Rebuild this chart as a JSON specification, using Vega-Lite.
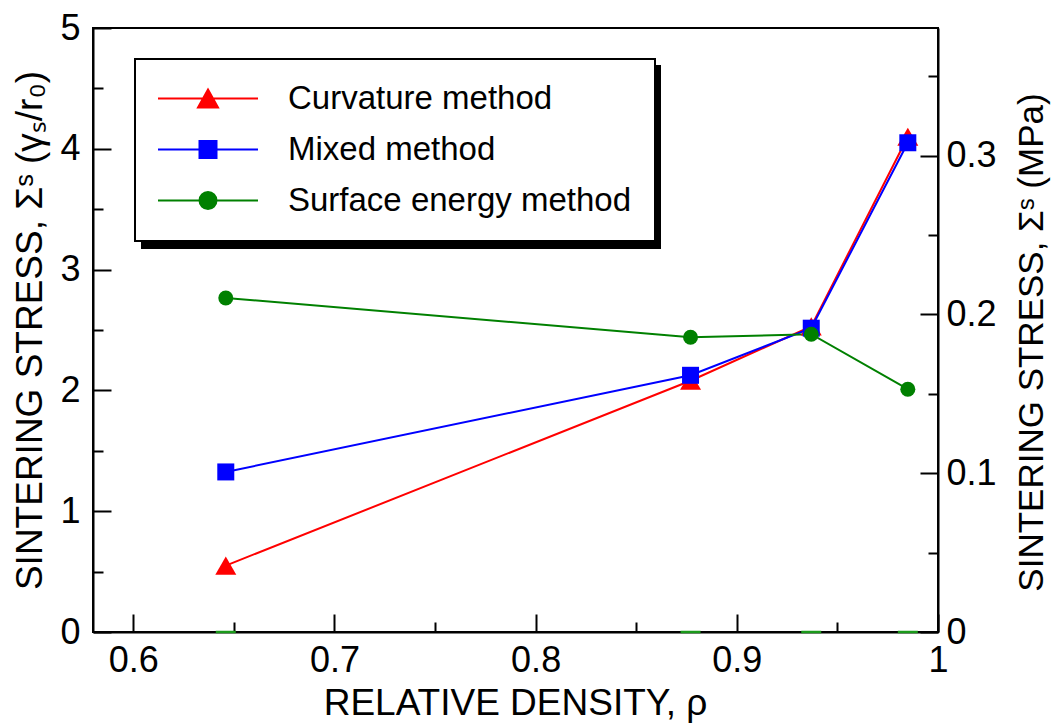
{
  "$schema": "https://vega.github.io/schema/vega-lite/v6.json",
  "width": 845,
  "height": 604,
  "autosize": "none",
  "padding": {"left": 93, "top": 28, "right": 114, "bottom": 94},
  "background": "white",
  "config": {
    "font": "Liberation Sans",
    "view": {"stroke": "black", "strokeWidth": 2},
    "legend": {"strokeWidth": 2},
    "axis": {
      "grid": false,
      "domainColor": "black",
      "domainWidth": 2,
      "tickColor": "black",
      "tickWidth": 2,
      "labelColor": "black",
      "titleColor": "black",
      "labelFont": "Liberation Sans",
      "titleFont": "Liberation Sans",
      "titleFontWeight": "normal",
      "labelFontSize": 36,
      "titleFontSize": 37,
      "labelFlush": false,
      "labelOverlap": false
    }
  },
  "data": {
    "values": [
      {"method": "Curvature method", "rho": 0.646, "stress": 0.55},
      {"method": "Curvature method", "rho": 0.877, "stress": 2.08},
      {"method": "Curvature method", "rho": 0.937, "stress": 2.53},
      {"method": "Curvature method", "rho": 0.985, "stress": 4.10},
      {"method": "Mixed method", "rho": 0.646, "stress": 1.325},
      {"method": "Mixed method", "rho": 0.877, "stress": 2.125},
      {"method": "Mixed method", "rho": 0.937, "stress": 2.515},
      {"method": "Mixed method", "rho": 0.985, "stress": 4.05},
      {"method": "Surface energy method", "rho": 0.646, "stress": 2.765},
      {"method": "Surface energy method", "rho": 0.877, "stress": 2.44},
      {"method": "Surface energy method", "rho": 0.937, "stress": 2.465},
      {"method": "Surface energy method", "rho": 0.985, "stress": 2.01}
    ]
  },
  "layer": [
    {
      "layer": [
        {
          "mark": {"type": "line", "strokeWidth": 2},
          "encoding": {
            "x": {
              "field": "rho", "type": "quantitative",
              "scale": {"domain": [0.58, 1], "nice": false, "zero": false},
              "axis": {
                "values": [0.6, 0.65, 0.7, 0.75, 0.8, 0.85, 0.9, 0.95, 1],
                "labelExpr": "abs(datum.value*10 - round(datum.value*10)) < 0.000001 ? format(datum.value, '~g') : ''",
                "tickSize": {"condition": {"test": "abs(datum.value*10 - round(datum.value*10)) < 0.000001", "value": -18}, "value": -10},
                "labelPadding": 29,
                "title": "RELATIVE DENSITY, ρ",
                "titleX": 422,
                "titleY": 71,
                "titleAlign": "center",
                "titleBaseline": "middle"
              }
            },
            "y": {
              "field": "stress", "type": "quantitative",
              "scale": {"domain": [0, 5], "nice": false},
              "axis": {
                "values": [0, 0.5, 1, 1.5, 2, 2.5, 3, 3.5, 4, 4.5, 5],
                "labelExpr": "datum.value % 1 === 0 ? format(datum.value, 'd') : ''",
                "tickSize": {"condition": {"test": "datum.value % 1 === 0", "value": -18}, "value": -10},
                "labelPadding": 31,
                "title": "SINTERING STRESS, Σˢ (γₛ/r₀)",
                "titleX": -63,
                "titleY": 302,
                "titleAngle": -90,
                "titleAlign": "center",
                "titleBaseline": "middle"
              }
            },
            "color": {
              "field": "method", "type": "nominal",
              "scale": {"range": ["#ff0000", "#0000ff", "#008000"]},
              "legend": null
            }
          }
        },
        {
          "transform": [{"filter": {"field": "method", "equal": "Curvature method"}}],
          "mark": {"type": "point", "filled": true, "shape": "triangle-up", "size": 441, "opacity": 1},
          "encoding": {
            "x": {"field": "rho", "type": "quantitative"},
            "y": {"field": "stress", "type": "quantitative"},
            "color": {"field": "method", "type": "nominal", "legend": null}
          }
        },
        {
          "transform": [{"filter": {"field": "method", "equal": "Mixed method"}}],
          "mark": {"type": "point", "filled": true, "shape": "square", "size": 289, "opacity": 1},
          "encoding": {
            "x": {"field": "rho", "type": "quantitative"},
            "y": {"field": "stress", "type": "quantitative"},
            "color": {"field": "method", "type": "nominal", "legend": null}
          }
        },
        {
          "transform": [{"filter": {"field": "method", "equal": "Surface energy method"}}],
          "mark": {"type": "point", "filled": true, "shape": "circle", "size": 225, "opacity": 1},
          "encoding": {
            "x": {"field": "rho", "type": "quantitative"},
            "y": {"field": "stress", "type": "quantitative"},
            "color": {"field": "method", "type": "nominal", "legend": null}
          }
        },
        {
          "transform": [{"filter": {"field": "method", "equal": "Surface energy method"}}],
          "mark": {"type": "tick", "orient": "horizontal", "size": 20, "thickness": 2.5, "color": "#1a9a1a", "opacity": 1},
          "encoding": {
            "x": {"field": "rho", "type": "quantitative"},
            "y": {"datum": 0, "type": "quantitative"}
          }
        },
        {
          "transform": [{"calculate": "datum.method", "as": "key"}],
          "mark": {"type": "point", "filled": true, "opacity": 0},
          "encoding": {
            "x": {"field": "rho", "type": "quantitative"},
            "y": {"field": "stress", "type": "quantitative"},
            "strokeDash": {
              "field": "key", "type": "nominal",
              "scale": {"range": [[1, 0], [1, 0], [1, 0]]},
              "legend": {
                "orient": "none", "legendX": 49, "legendY": 38, "zindex": 1,
                "title": null,
                "fillColor": "black", "strokeColor": "black",
                "padding": 23, "rowPadding": 17,
                "labelFont": "Liberation Sans", "labelFontSize": 33, "labelColor": "black", "labelOffset": 97, "labelLimit": 600,
                "labelExpr": "''",
                "symbolType": "M-1.65,-1.65L45.55,-1.65L45.55,1.65L-1.65,1.65Z", "symbolSize": 400, "symbolStrokeWidth": 0,
                "symbolFillColor": "black", "symbolStrokeColor": "black", "symbolOpacity": 1
              }
            }
          }
        },
        {
          "mark": {"type": "point", "filled": true, "opacity": 0},
          "encoding": {
            "x": {"field": "rho", "type": "quantitative"},
            "y": {"field": "stress", "type": "quantitative"},
            "fill": {
              "field": "method", "type": "nominal",
              "scale": {"domain": ["Curvature method", "Mixed method", "Surface energy method"], "range": ["#ff0000", "#0000ff", "#008000"]},
              "legend": {
                "orient": "none", "legendX": 42, "legendY": 31, "zindex": 2,
                "title": null,
                "fillColor": "white", "strokeColor": "black",
                "padding": 23, "rowPadding": 17,
                "labelFont": "Liberation Sans", "labelFontSize": 33, "labelColor": "black", "labelOffset": 97, "labelLimit": 600,
                "symbolSize": 400, "symbolStrokeWidth": 2, "symbolOpacity": 1
              }
            },
            "stroke": {
              "field": "method", "type": "nominal",
              "scale": {"domain": ["Curvature method", "Mixed method", "Surface energy method"], "range": ["#ff0000", "#0000ff", "#008000"]},
              "legend": {
                "orient": "none", "legendX": 42, "legendY": 31, "zindex": 2,
                "title": null,
                "fillColor": "white", "strokeColor": "black",
                "padding": 23, "rowPadding": 17,
                "labelFont": "Liberation Sans", "labelFontSize": 33, "labelColor": "black", "labelOffset": 97, "labelLimit": 600,
                "symbolSize": 400, "symbolStrokeWidth": 2, "symbolOpacity": 1
              }
            },
            "shape": {
              "field": "method", "type": "nominal",
              "scale": {
                "domain": ["Curvature method", "Mixed method", "Surface energy method"],
                "range": [
                  "M-1.65,0L8.35,0M3.35,-0.9L4.35,0.9L2.35,0.9Z",
                  "M-1.65,0L8.35,0M2.5,-0.85L4.2,-0.85L4.2,0.85L2.5,0.85Z",
                  "M-1.65,0L8.35,0M2.5,0A0.85,0.85,0,1,1,4.2,0A0.85,0.85,0,1,1,2.5,0Z"
                ]
              },
              "legend": {
                "orient": "none", "legendX": 42, "legendY": 31, "zindex": 2,
                "title": null,
                "fillColor": "white", "strokeColor": "black",
                "padding": 23, "rowPadding": 17,
                "labelFont": "Liberation Sans", "labelFontSize": 33, "labelColor": "black", "labelOffset": 97, "labelLimit": 600,
                "symbolSize": 400, "symbolStrokeWidth": 2, "symbolOpacity": 1
              }
            }
          }
        }
      ]
    },
    {
      "mark": {"type": "rule", "color": "black", "strokeWidth": 2, "opacity": 0},
      "encoding": {
        "y": {
          "datum": 0, "type": "quantitative",
          "scale": {"domain": [0, 0.3803], "nice": false},
          "axis": {
            "orient": "right",
            "values": [0, 0.05, 0.1, 0.15, 0.2, 0.25, 0.3, 0.35],
            "labelExpr": "abs(datum.value*10 - round(datum.value*10)) < 0.000001 ? format(datum.value, '~g') : ''",
            "tickSize": {"condition": {"test": "abs(datum.value*10 - round(datum.value*10)) < 0.000001", "value": -18}, "value": -10},
            "labelPadding": 26,
            "title": "SINTERING STRESS, Σˢ (MPa)",
            "titleX": 93,
            "titleY": 314,
            "titleAngle": -90,
            "titleAlign": "center",
            "titleBaseline": "middle",
            "titleFontSize": 35
          }
        }
      }
    }
  ],
  "resolve": {"scale": {"y": "independent"}, "axis": {"y": "independent"}}
}
